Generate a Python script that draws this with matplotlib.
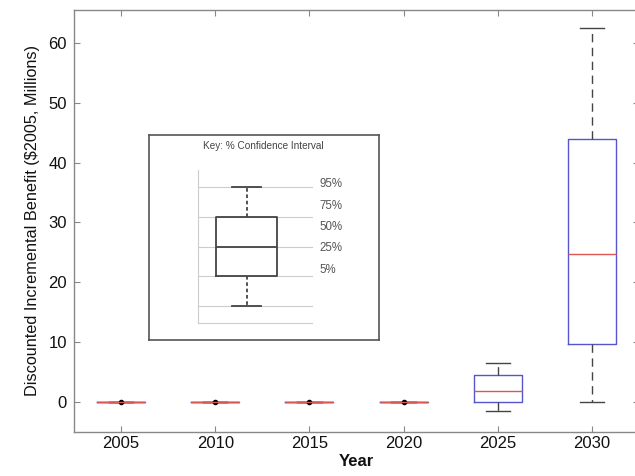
import matplotlib
matplotlib.use("Agg")
import matplotlib.pyplot as plt

plt.rcParams['font.family'] = ['Liberation Sans', 'DejaVu Sans']

years = ["2005", "2010", "2015", "2020", "2025", "2030"]
q1 = [0, 0, 0, 0, 0.0, 9.7]
med = [0, 0, 0, 0, 1.9, 24.7]
q3 = [0, 0, 0, 0, 4.5, 44.0]
whislo = [0, 0, 0, 0, -1.45, 0.0]
whishi = [0, 0, 0, 0, 6.6, 62.5]
fliers = [[0], [0], [0], [0], [], []]

key_levels = [1, 2, 3, 4, 5]           # lower cap, box bottom, median, box top, upper cap
key_labels = ["95%", "75%", "50%", "25%", "5%"]
key_label_y = [5.1, 4.38, 3.66, 2.94, 2.22]

fig = plt.figure(figsize=(6.35, 4.76), dpi=100)
ax = fig.add_axes([74/635, 44/476, 565/635, 422/476])

stats = []
for i in range(len(years)):
    stats.append(dict(med=med[i], q1=q1[i], q3=q3[i], whislo=whislo[i],
                      whishi=whishi[i], fliers=fliers[i], label=years[i]))

ax.bxp(stats, positions=range(1, len(years) + 1), widths=0.51,
       boxprops=dict(color='#5555cc', linewidth=1.0),
       medianprops=dict(color='#dd5555', linewidth=1.0),
       whiskerprops=dict(color='#444444', linewidth=1.0, linestyle=(0, (6, 4))),
       capprops=dict(color='#444444', linewidth=1.0),
       capwidths=0.26,
       flierprops=dict(marker='o', markersize=3, markerfacecolor='black',
                       markeredgecolor='black'),
       showfliers=True)

ax.set_xlim(0.5, 6.5)
ax.set_ylim(-5, 65.5)
ax.set_yticks([0, 10, 20, 30, 40, 50, 60])
ax.tick_params(direction='in', length=4, top=True, right=True, color='#888888',
               labelsize=12, labelcolor='#111111', width=0.8)
ax.tick_params(axis='x', pad=3)
ax.tick_params(axis='y', pad=5)
for s in ax.spines.values():
    s.set_color('#888888')
    s.set_linewidth(1.0)
ax.set_xlabel("Year", fontsize=12, fontweight='bold', color='#111111', labelpad=2)
ax.set_ylabel("Discounted Incremental Benefit ($2005, Millions)", fontsize=11.7,
              color='#111111', labelpad=6)

# Key inset
kax = fig.add_axes([149/635, 136/476, 230/635, 205/476])
kax.set_xticks([])
kax.set_yticks([])
for s in kax.spines.values():
    s.set_color('#555555')
    s.set_linewidth(1.2)

for lv in [0.43] + key_levels:
    kax.plot([0.213, 0.709], [lv, lv], color='#cccccc', linewidth=0.8)
kax.plot([0.213, 0.213], [0.43, 5.57], color='#cccccc', linewidth=0.8)

kstats = [dict(med=key_levels[2], q1=key_levels[1], q3=key_levels[3],
               whislo=key_levels[0], whishi=key_levels[4], fliers=[])]
kax.bxp(kstats, positions=[0.424], widths=0.265, capwidths=0.126,
        boxprops=dict(color='#444444', linewidth=1.3),
        medianprops=dict(color='#444444', linewidth=1.3),
        whiskerprops=dict(color='#444444', linewidth=1.3, linestyle=(0, (2, 1.5))),
        capprops=dict(color='#444444', linewidth=1.3),
        showfliers=False, manage_ticks=False)
kax.set_xlim(0, 1)
kax.set_ylim(-0.14, 6.75)

for lab, yy in zip(key_labels, key_label_y):
    kax.text(0.743, yy, lab, fontsize=8.3, color='#555555', va='center', ha='left')
kax.text(0.496, 6.38, "Key: % Confidence Interval", fontsize=7.2, color='#444444',
         ha='center', va='center')

fig.savefig("out.png", dpi=100)
